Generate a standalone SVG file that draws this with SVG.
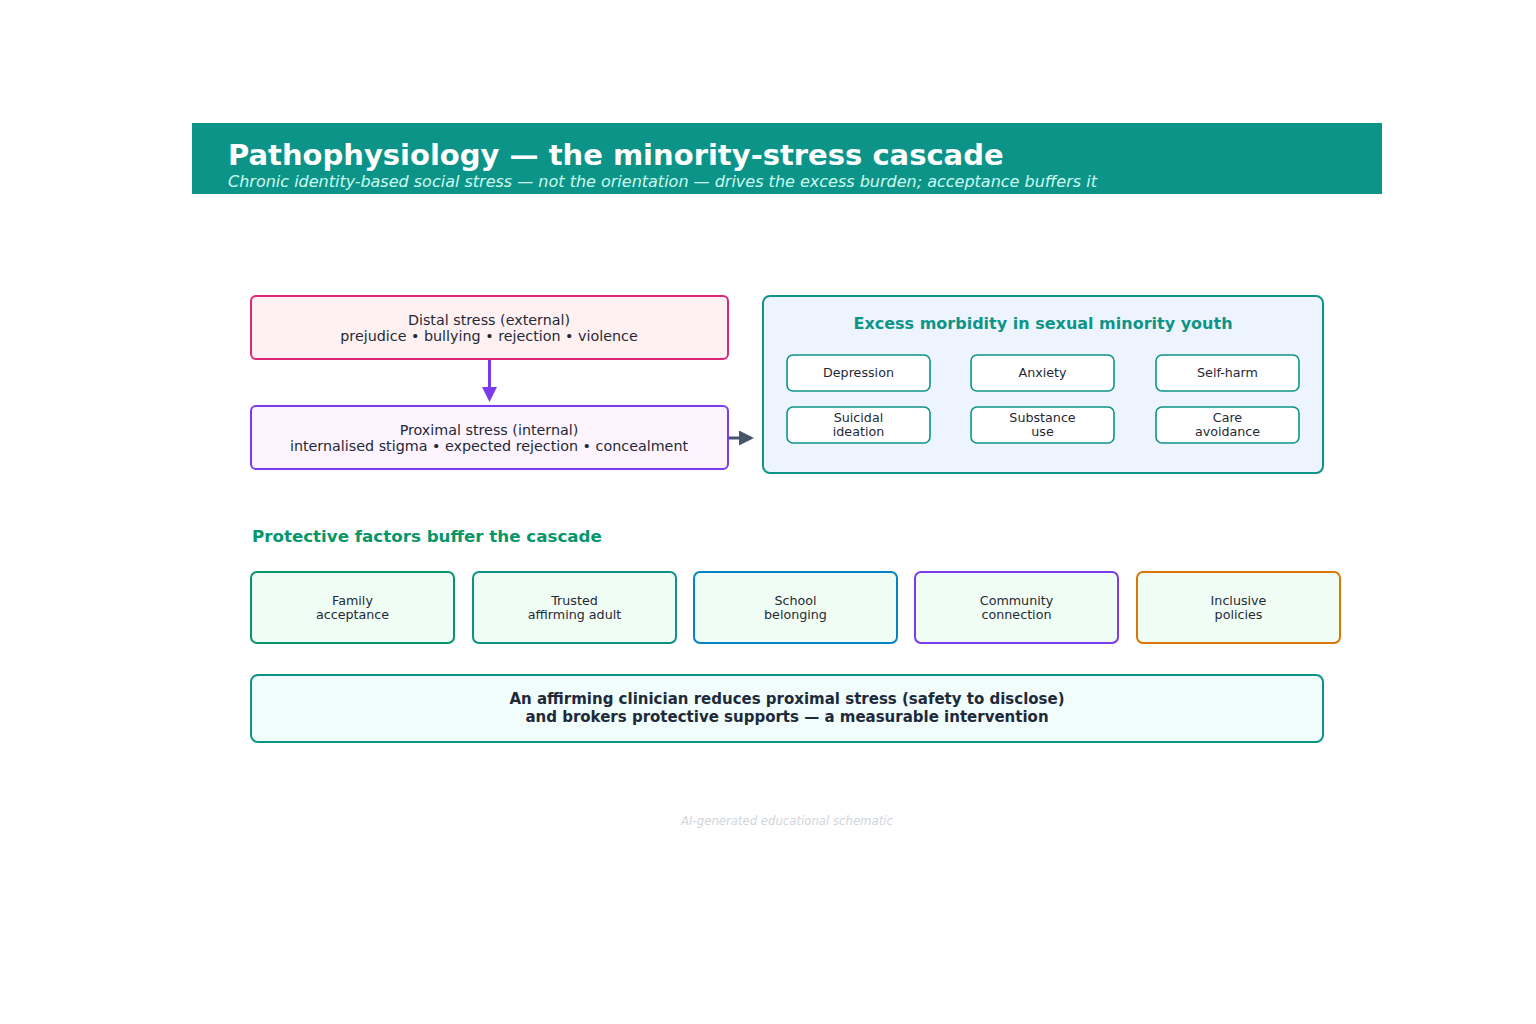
<svg xmlns="http://www.w3.org/2000/svg" width="1536" height="1024" viewBox="0 0 1536 1024">
<defs>
<style>
text{font-family:"DejaVu Sans","Liberation Sans",sans-serif;}
.box{stroke-width:2;}
.lbl{font-size:14.3px;fill:#1f2937;text-anchor:middle;}
.sm{font-size:12.7px;fill:#1f2937;text-anchor:middle;}
.mb{fill:#ffffff;stroke:#0d9488;stroke-width:1.6;}
.pf{fill:#f0fdf4;stroke-width:2;}
</style>
<marker id="ap" viewBox="0 0 10 10" refX="8" refY="5" markerWidth="5" markerHeight="5" orient="auto"><path d="M0,0 L10,5 L0,10 z" fill="#7c3aed"/></marker>
<marker id="as" viewBox="0 0 10 10" refX="8" refY="5" markerWidth="5" markerHeight="5" orient="auto"><path d="M0,0 L10,5 L0,10 z" fill="#475569"/></marker>
</defs>
<rect width="1536" height="1024" fill="#ffffff"/>
<g id="header">
<rect x="192" y="123" width="1190" height="71" fill="#0d9488"/>
<text x="228" y="165" font-size="29" font-weight="bold" fill="#ffffff">Pathophysiology — the minority-stress cascade</text>
<text x="228" y="186.5" font-size="16" font-style="italic" fill="#ccfbf1">Chronic identity-based social stress — not the orientation — drives the excess burden; acceptance buffers it</text>
</g>
<g id="distal">
<rect class="box" x="251" y="296" width="477" height="63" rx="5" fill="#fff1f2" stroke="#db2777"/>
<text class="lbl" x="489" y="325">Distal stress (external)</text>
<text class="lbl" x="489" y="341">prejudice • bullying • rejection • violence</text>
</g>
<g id="proximal">
<rect class="box" x="251" y="406" width="477" height="63" rx="5" fill="#fdf4ff" stroke="#7c3aed"/>
<text class="lbl" x="489" y="435">Proximal stress (internal)</text>
<text class="lbl" x="489" y="451">internalised stigma • expected rejection • concealment</text>
</g>
<g id="morbidity">
<rect class="box" x="763" y="296" width="560" height="177" rx="7" fill="#eef4fe" stroke="#0d9488"/>
<text x="1043" y="328.5" font-size="16" font-weight="bold" fill="#0d9488" text-anchor="middle">Excess morbidity in sexual minority youth</text>
<g id="m-depression"><rect class="mb" x="787" y="355" width="143" height="36" rx="6"/><text class="sm" x="858.5" y="377">Depression</text></g>
<g id="m-anxiety"><rect class="mb" x="971" y="355" width="143" height="36" rx="6"/><text class="sm" x="1042.5" y="377">Anxiety</text></g>
<g id="m-selfharm"><rect class="mb" x="1156" y="355" width="143" height="36" rx="6"/><text class="sm" x="1227.5" y="377">Self-harm</text></g>
<g id="m-suicidal"><rect class="mb" x="787" y="407" width="143" height="36" rx="6"/><text class="sm" x="858.5" y="421.5">Suicidal</text><text class="sm" x="858.5" y="435.5">ideation</text></g>
<g id="m-substance"><rect class="mb" x="971" y="407" width="143" height="36" rx="6"/><text class="sm" x="1042.5" y="421.5">Substance</text><text class="sm" x="1042.5" y="435.5">use</text></g>
<g id="m-care"><rect class="mb" x="1156" y="407" width="143" height="36" rx="6"/><text class="sm" x="1227.5" y="421.5">Care</text><text class="sm" x="1227.5" y="435.5">avoidance</text></g>
</g>
<g id="protective-heading">
<text x="252" y="541.5" font-size="16.7" font-weight="bold" fill="#059669">Protective factors buffer the cascade</text>
</g>
<g id="p-family"><rect class="pf" x="251" y="572" width="203" height="71" rx="6" stroke="#059669"/><text class="sm" x="352.5" y="605">Family</text><text class="sm" x="352.5" y="619">acceptance</text></g>
<g id="p-trusted"><rect class="pf" x="473" y="572" width="203" height="71" rx="6" stroke="#0d9488"/><text class="sm" x="574.5" y="605">Trusted</text><text class="sm" x="574.5" y="619">affirming adult</text></g>
<g id="p-school"><rect class="pf" x="694" y="572" width="203" height="71" rx="6" stroke="#0284c7"/><text class="sm" x="795.5" y="605">School</text><text class="sm" x="795.5" y="619">belonging</text></g>
<g id="p-community"><rect class="pf" x="915" y="572" width="203" height="71" rx="6" stroke="#7c3aed"/><text class="sm" x="1016.5" y="605">Community</text><text class="sm" x="1016.5" y="619">connection</text></g>
<g id="p-inclusive"><rect class="pf" x="1137" y="572" width="203" height="71" rx="6" stroke="#d97706"/><text class="sm" x="1238.5" y="605">Inclusive</text><text class="sm" x="1238.5" y="619">policies</text></g>
<g id="clinician">
<rect class="box" x="251" y="675" width="1072" height="67" rx="7" fill="#f0fdfa" stroke="#0d9488"/>
<text x="787" y="704" font-size="15" font-weight="bold" fill="#1e293b" text-anchor="middle">An affirming clinician reduces proximal stress (safety to disclose)</text>
<text x="787" y="722" font-size="15" font-weight="bold" fill="#1e293b" text-anchor="middle">and brokers protective supports — a measurable intervention</text>
</g>
<g id="connectors">
<line x1="489.5" y1="360" x2="489.5" y2="399" stroke="#7c3aed" stroke-width="3" marker-end="url(#ap)"/>
<line x1="729" y1="438" x2="751" y2="438" stroke="#475569" stroke-width="3" marker-end="url(#as)"/>
</g>
<g id="footer">
<text x="787" y="825" font-size="11.7" font-style="italic" fill="#d1d5db" text-anchor="middle">AI-generated educational schematic</text>
</g>
</svg>
